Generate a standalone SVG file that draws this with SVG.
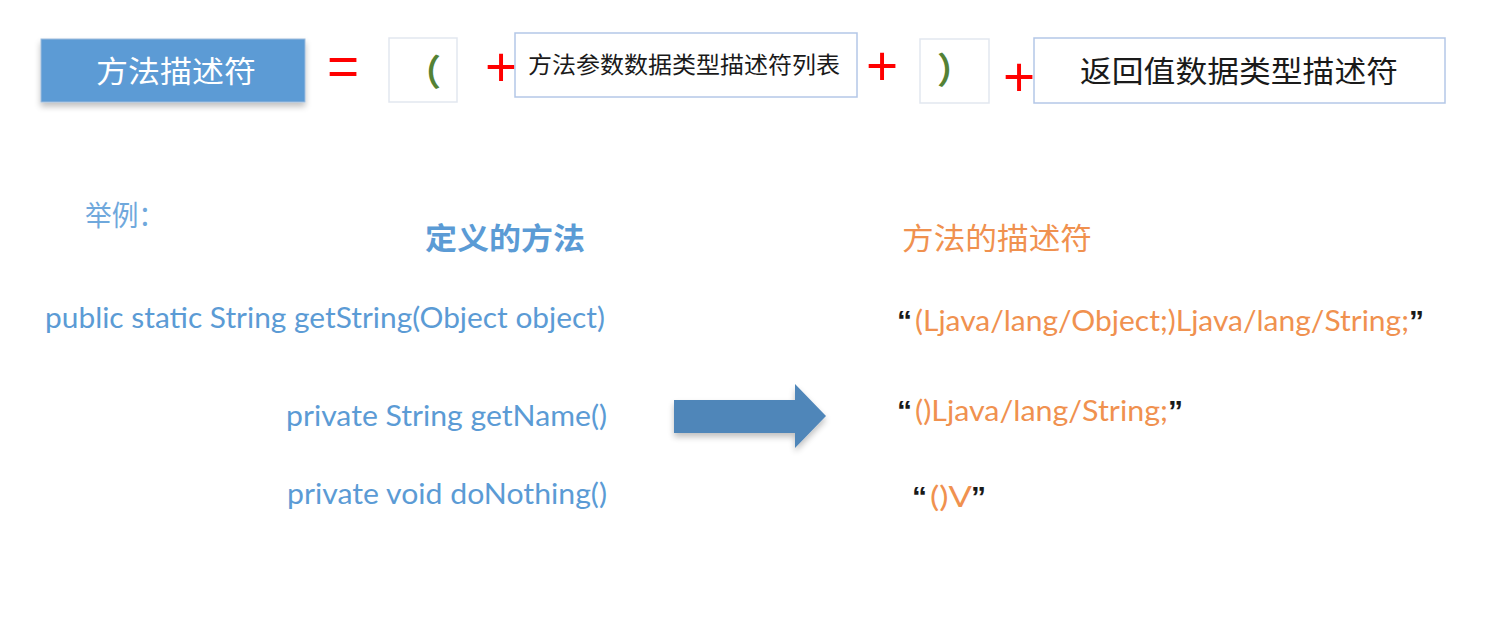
<svg xmlns="http://www.w3.org/2000/svg" width="1486" height="618" viewBox="0 0 1486 618">
  <style>
    .cjk { font-family: "Noto Sans CJK SC", sans-serif; }
    .op { font-family: "Liberation Sans", Arial, sans-serif; font-size: 55px; fill: #ff0000; text-anchor: middle; }
    .paren { font-family: "Noto Sans CJK SC", sans-serif; font-size: 36px; font-weight: bold; fill: #548235; }
    .box { fill: #ffffff; stroke: #b4c7e7; stroke-width: 1.5; }
    .lbox { fill: #ffffff; stroke: #e2e7ef; stroke-width: 1.5; }
    .code { font-family: Lato, "Open Sans", sans-serif; font-size: 28px; fill: #5b9bd5; }
    .desc { font-family: Lato, "Open Sans", sans-serif; font-size: 28px; fill: #f0914f; }
    .q { font-family: "Liberation Sans", Arial, sans-serif; font-weight: bold; font-size: 30px; fill: #1a1a1a; }
  </style>
  <defs>
    <filter id="sh" x="-10%" y="-20%" width="120%" height="150%">
      <feGaussianBlur in="SourceAlpha" stdDeviation="3"/>
      <feOffset dx="0" dy="4" result="b"/>
      <feComponentTransfer><feFuncA type="linear" slope="0.25"/></feComponentTransfer>
      <feMerge><feMergeNode/><feMergeNode in="SourceGraphic"/></feMerge>
    </filter>
  </defs>
  <rect width="1486" height="618" fill="#ffffff"/>

  <g id="method-descriptor">
    <rect x="41" y="39" width="264" height="63" fill="#5b9bd5" stroke="#9dbbdc" stroke-width="1" filter="url(#sh)"/>
    <text x="176" y="82" class="cjk" font-size="30" fill="#ffffff" text-anchor="middle" textLength="160" lengthAdjust="spacingAndGlyphs">方法描述符</text>
  </g>

  <g id="equals"><text x="343" y="85" class="op">=</text></g>

  <g id="open-paren">
    <rect x="389" y="38" width="68" height="64" class="lbox"/>
    <text x="405" y="86" class="paren">（</text>
  </g>

  <g id="plus1"><text x="501" y="86" class="op">+</text></g>

  <g id="param-list">
    <rect x="515" y="33" width="342" height="64" class="box"/>
    <text x="528" y="73" class="cjk" font-size="23" fill="#1a1a1a" textLength="312" lengthAdjust="spacingAndGlyphs">方法参数数据类型描述符列表</text>
  </g>

  <g id="plus2"><text x="882" y="85" class="op">+</text></g>

  <g id="close-paren">
    <rect x="920" y="39" width="69" height="64" class="lbox"/>
    <text x="937" y="84" class="paren">）</text>
  </g>

  <g id="plus3"><text x="1019" y="96" class="op">+</text></g>

  <g id="return-type">
    <rect x="1034" y="38" width="411" height="65" class="box"/>
    <text x="1080" y="82" class="cjk" font-size="30" fill="#1a1a1a" textLength="318" lengthAdjust="spacingAndGlyphs">返回值数据类型描述符</text>
  </g>

  <g id="example-label">
    <text x="85" y="226" class="cjk" font-size="28" fill="#6fa8dc" textLength="80" lengthAdjust="spacingAndGlyphs">举例：</text>
  </g>

  <g id="defined-methods">
    <text x="425" y="249" class="cjk" font-size="30" font-weight="bold" fill="#5b9bd5" textLength="160" lengthAdjust="spacingAndGlyphs">定义的方法</text>
    <text x="45" y="328" class="code" textLength="560" lengthAdjust="spacingAndGlyphs">public static String getString(Object object)</text>
    <text x="286" y="426" class="code" textLength="321" lengthAdjust="spacingAndGlyphs">private String getName()</text>
    <text x="287" y="504" class="code" textLength="320" lengthAdjust="spacingAndGlyphs">private void doNothing()</text>
  </g>

  <g id="descriptors">
    <text x="902" y="249" class="cjk" font-size="30" fill="#f0914f" textLength="190" lengthAdjust="spacingAndGlyphs">方法的描述符</text>
    <text x="897" y="331" class="q">“</text>
    <text x="915" y="331" class="desc" textLength="494" lengthAdjust="spacingAndGlyphs">(Ljava/lang/Object;)Ljava/lang/String;</text>
    <text x="1409" y="331" class="q">”</text>
    <text x="897" y="421" class="q">“</text>
    <text x="915" y="421" class="desc" textLength="253" lengthAdjust="spacingAndGlyphs">()Ljava/lang/String;</text>
    <text x="1168" y="421" class="q">”</text>
    <text x="912" y="507" class="q">“</text>
    <text x="930" y="507" class="desc" textLength="42" lengthAdjust="spacingAndGlyphs">()V</text>
    <text x="971" y="507" class="q">”</text>
  </g>

  <g id="connectors">
    <path d="M674,400 L795,400 L795,384 L826,416 L795,448 L795,433 L674,433 Z" fill="#4f86b9" filter="url(#sh)"/>
  </g>
</svg>
